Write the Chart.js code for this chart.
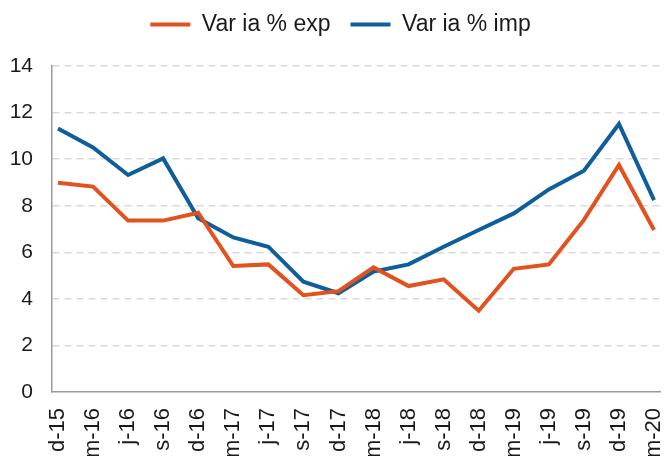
<!DOCTYPE html>
<html>
<head>
<meta charset="utf-8">
<script src="https://cdn.jsdelivr.net/npm/chart.js@4.4.1/dist/chart.umd.min.js"></script>
<style>
html,body{margin:0;padding:0;background:#ffffff;}
#wrap{width:665px;height:456px;}
</style>
</head>
<body>
<div id="wrap"><canvas id="c" width="665" height="456"></canvas></div>
<script>
const categories = ['d-15','m-16','j-16','s-16','d-16','m-17','j-17','s-17','d-17','m-18','j-18','s-18','d-18','m-19','j-19','s-19','d-19','m-20'];
const seriesNames = ['Var ia % exp', 'Var ia % imp'];
const expValues = [8.99, 8.82, 7.36, 7.36, 7.70, 5.41, 5.48, 4.16, 4.33, 5.35, 4.55, 4.84, 3.49, 5.29, 5.48, 7.39, 9.75, 6.96];
const impValues = [11.32, 10.50, 9.32, 10.03, 7.46, 6.64, 6.24, 4.74, 4.24, 5.17, 5.48, 6.24, 6.96, 7.67, 8.70, 9.50, 11.51, 8.24];
const yMin = 0, yMax = 14, yStep = 2;

const FONT = "'Liberation Sans', Arial, sans-serif";
const ORANGE = '#e2511e';
const BLUE = '#0f5e9c';

const toPoints = vals => vals.map((v, i) => ({x: i, y: v}));

new Chart(document.getElementById('c'), {
  type: 'line',
  data: {
    datasets: [
      {label: seriesNames[0], data: toPoints(expValues), borderColor: ORANGE, backgroundColor: ORANGE, borderWidth: 4, pointRadius: 0, tension: 0, fill: false},
      {label: seriesNames[1], data: toPoints(impValues), borderColor: BLUE, backgroundColor: BLUE, borderWidth: 4, pointRadius: 0, tension: 0, fill: false}
    ]
  },
  options: {
    responsive: false,
    animation: false,
    devicePixelRatio: 1,
    layout: {padding: {top: -7, left: 0, right: -16, bottom: 0}},
    plugins: {
      tooltip: {enabled: false},
      title: {display: true, text: '', weight: 500, font: {size: 1, lineHeight: 1}, padding: {top: 19, bottom: 0}},
      legend: {
        position: 'top',
        align: 'center',
        labels: {
          boxWidth: 40,
          boxHeight: 4,
          padding: 20,
          color: '#1a1a1a',
          font: {size: 23, family: FONT},
          generateLabels: chart => Chart.defaults.plugins.legend.labels.generateLabels(chart).map(l => Object.assign(l, {lineWidth: 0}))
        }
      }
    },
    scales: {
      x: {
        type: 'linear',
        min: -0.17,
        max: categories.length - 1 + 0.17,
        grid: {display: false, drawTicks: false},
        border: {display: true, color: '#9a9a9a', width: 1.5},
        ticks: {
          stepSize: 1,
          includeBounds: false,
          autoSkip: false,
          maxRotation: 90,
          minRotation: 90,
          padding: 16,
          color: '#1a1a1a',
          font: {size: 22, family: FONT},
          callback: v => (Number.isInteger(v) && categories[v] !== undefined) ? categories[v] : ''
        },
        afterFit: s => { s.height = 64; s.paddingLeft = 0; s.paddingRight = 5; }
      },
      y: {
        min: yMin,
        max: yMax,
        grid: {color: ctx => (ctx.tick && ctx.tick.value === 0) ? 'rgba(0,0,0,0)' : '#d9d9d9', lineWidth: 1.5, drawTicks: false},
        border: {display: true, color: '#9a9a9a', width: 1.5, dash: [7, 5]},
        ticks: {stepSize: yStep, padding: 19, color: '#1a1a1a', font: {size: 21, family: FONT}},
        afterFit: s => { s.width = 52; }
      }
    }
  }
});
</script>
</body>
</html>
